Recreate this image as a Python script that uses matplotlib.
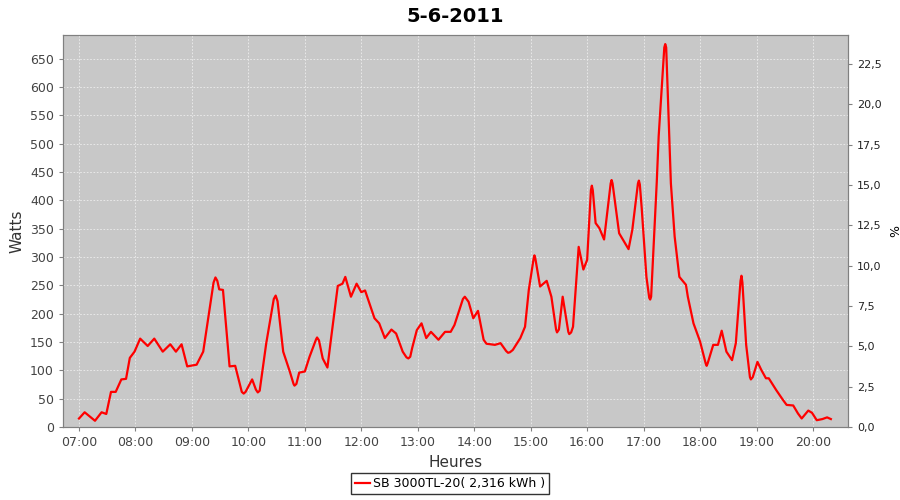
import matplotlib
matplotlib.use("Agg")
import matplotlib.pyplot as plt
import matplotlib.dates as mdates
import matplotlib.ticker as mticker
import pandas as pd

# power readings for the day (time, watts)
times = ["07:00", "07:06", "07:17", "07:24", "07:29", "07:34", "07:39", "07:45", "07:50", "07:54",
         "07:59", "08:05", "08:13", "08:20", "08:29", "08:37", "08:43", "08:49", "08:55", "09:05",
         "09:12", "09:23", "09:25", "09:27", "09:29", "09:33", "09:40", "09:46", "09:53", "09:55",
         "09:57", "10:04", "10:08", "10:10", "10:12", "10:19", "10:27", "10:29", "10:31", "10:37",
         "10:44", "10:48", "10:49", "10:51", "10:54", "11:00", "11:05", "11:12", "11:13", "11:15",
         "11:19", "11:24", "11:28", "11:35", "11:40", "11:43", "11:49", "11:55", "12:00", "12:04",
         "12:14", "12:19", "12:25", "12:32", "12:37", "12:44", "12:48", "12:50", "12:52", "12:54",
         "12:59", "13:04", "13:09", "13:14", "13:22", "13:29", "13:35", "13:39", "13:48", "13:50",
         "13:54", "13:59", "14:04", "14:10", "14:13", "14:22", "14:28", "14:34", "14:36", "14:38",
         "14:41", "14:49", "14:54", "14:58", "15:03", "15:04", "15:05", "15:10", "15:17", "15:22",
         "15:27", "15:28", "15:30", "15:34", "15:40", "15:41", "15:43", "15:45", "15:51", "15:56",
         "16:00", "16:04", "16:05", "16:06", "16:09", "16:13", "16:18", "16:25", "16:26", "16:27",
         "16:34", "16:44", "16:48", "16:54", "16:55", "16:56", "16:58", "17:03", "17:06", "17:07",
         "17:08", "17:14", "17:16", "17:22", "17:23", "17:24", "17:29", "17:33", "17:38", "17:45",
         "17:47", "17:53", "18:00", "18:06", "18:07", "18:08", "18:14", "18:19", "18:23", "18:28",
         "18:34", "18:38", "18:43", "18:44", "18:45", "18:49", "18:53", "18:54", "18:56", "19:01",
         "19:05", "19:10", "19:13", "19:21", "19:28", "19:32", "19:39", "19:44", "19:48", "19:55",
         "19:59", "20:04", "20:10", "20:15", "20:19"]
watts = [15, 26, 11, 26, 23, 62, 62, 84, 85, 122,
         133, 156, 143, 156, 133, 146, 133, 146, 107, 110,
         133, 255, 264, 258, 243, 242, 107, 108, 62, 59,
         62, 84, 66, 61, 64, 148, 226, 232, 222, 133,
         98, 76, 73, 76, 96, 98, 124, 155, 158, 153,
         121, 105, 158, 249, 253, 265, 230, 253, 238, 241,
         192, 183, 157, 172, 165, 133, 123, 121, 124, 139,
         171, 183, 157, 168, 154, 168, 168, 180, 226, 230,
         221, 192, 205, 154, 147, 145, 148, 134, 131, 132,
         136, 157, 177, 242, 296, 303, 297, 248, 258, 230,
         172, 167, 172, 230, 168, 164, 167, 177, 318, 278,
         295, 418, 426, 418, 360, 351, 331, 430, 436, 430,
         342, 314, 348, 430, 435, 428, 386, 265, 228, 225,
         230, 433, 513, 670, 676, 670, 430, 336, 265, 251,
         230, 183, 151, 112, 108, 112, 145, 145, 170, 133,
         118, 148, 258, 267, 255, 145, 88, 84, 88, 115,
         101, 86, 86, 65, 48, 39, 38, 24, 15, 29,
         25, 12, 14, 17, 14]

day = "2011-06-05"
t = pd.to_datetime([day + " " + s for s in times])

fig = plt.figure(figsize=(9, 5), dpi=100)
ax = fig.add_axes([0.070, 0.146, 0.872, 0.784])
ax.set_facecolor("#c8c8c8")

ax.plot(t, watts, color="#ff0000", linewidth=1.6, label="SB 3000TL-20( 2,316 kWh )")

ax.set_xlim(pd.Timestamp(day + " 06:43"), pd.Timestamp(day + " 20:37"))
ax.set_ylim(0, 692)
ax.yaxis.set_major_locator(mticker.MultipleLocator(50))
ax.xaxis.set_major_locator(mdates.HourLocator())
ax.xaxis.set_major_formatter(mdates.DateFormatter("%H:%M"))

ax.grid(True, color="#eeeeee", linestyle=(0, (2, 2)), linewidth=0.6)
ax.set_axisbelow(True)

grey = "#808080"
for s in ax.spines.values():
    s.set_color(grey)
ax.tick_params(colors=grey, labelcolor="#444444", labelsize=9, length=3)

ax.set_xlabel("Heures", fontsize=11, color="#333333")
ax.set_ylabel("Watts", fontsize=11, color="#333333")
ax.set_title("5-6-2011", fontsize=14, fontweight="bold", pad=9)

# second axis in percent
ax2 = ax.twinx()
ax2.set_ylim(0, 24.3)
ax2.yaxis.set_major_locator(mticker.MultipleLocator(2.5))
ax2.yaxis.set_major_formatter(mticker.FuncFormatter(lambda v, p: f"{v:.1f}".replace(".", ",")))
for s in ax2.spines.values():
    s.set_color(grey)
ax2.tick_params(colors=grey, labelcolor="#222222", labelsize=8, length=3)
ax2.set_ylabel("%", fontsize=9, rotation=-90, labelpad=12)

leg = fig.legend(loc="lower center", bbox_to_anchor=(0.5, 0.0), frameon=True, fancybox=False,
                 fontsize=9, handlelength=1.2, borderpad=0.3, handletextpad=0.3)
leg.get_frame().set_edgecolor("black")
leg.get_frame().set_linewidth(1)

fig.savefig("out.png", dpi=100)
